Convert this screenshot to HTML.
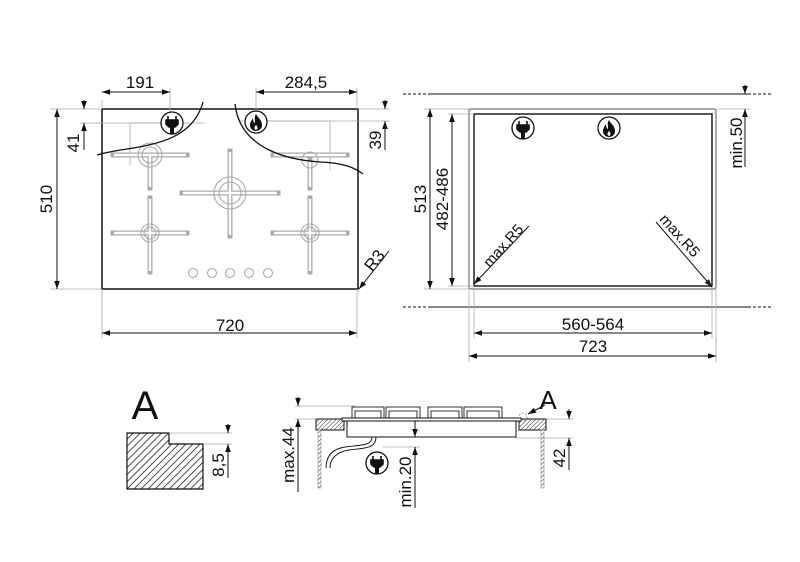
<!DOCTYPE html>
<html><head><meta charset="utf-8"><style>
html,body{margin:0;padding:0;background:#fff}
svg{display:block}
text{font-family:"Liberation Sans",sans-serif;fill:#111}
</style></head><body>
<svg width="800" height="562" viewBox="0 0 800 562" xmlns="http://www.w3.org/2000/svg">
<defs>
<marker id="a" viewBox="0 0 10 10" refX="10" refY="5" markerWidth="8" markerHeight="8" orient="auto-start-reverse" markerUnits="userSpaceOnUse"><path d="M0,1.5 L10,5 L0,8.5 z" fill="#111"/></marker>
<pattern id="h" width="5" height="5" patternUnits="userSpaceOnUse" patternTransform="rotate(45)"><rect width="5" height="5" fill="#fff"/><line x1="0" y1="0" x2="0" y2="5" stroke="#222" stroke-width="1.6"/></pattern>
<pattern id="hs" width="3" height="3" patternUnits="userSpaceOnUse" patternTransform="rotate(45)"><rect width="3" height="3" fill="#fff"/><line x1="0" y1="0" x2="0" y2="3" stroke="#333" stroke-width="1"/></pattern>
<g id="plug"><circle r="11" fill="#fff" stroke="#111" stroke-width="1.3"/><path d="M-4,-7v4M4,-7v4M-6,-3h12v4l-3,3h-6l-3-3z M-1.2,4h2.4v6h-2.4z" fill="#111" stroke="#111" stroke-width="1.6"/></g>
<g id="flame"><circle r="11" fill="#fff" stroke="#111" stroke-width="1.3"/><path d="M0,-8 C2,-4 6,-2 6,3 C6,7 3,9 0,9 C-3,9 -6,7 -6,3 C-6,0 -4,-2 -3,-4 C-3,-1 -2,1 -1,1 C-1,-3 -2,-5 0,-8z M0,3 C-2,5 -2,7 0,8 C2,7 2,5 0,3z" fill="#111" fill-rule="evenodd"/></g>
</defs>

<!-- LEFT VIEW -->
<g stroke="#111" fill="none">
<rect x="102" y="109" width="256" height="180" stroke-width="1.5"/>
<g stroke="#aaa" stroke-width="0.8">
<path d="M130,165 V123 H170 M175,123 H205 M240,121 H330 V170"/>
<line x1="102" y1="100" x2="102" y2="109"/><line x1="170" y1="88" x2="170" y2="112"/>
<line x1="256" y1="88" x2="256" y2="112"/><line x1="357" y1="88" x2="357" y2="109"/>
<line x1="50" y1="109" x2="102" y2="109"/><line x1="50" y1="289" x2="102" y2="289"/>
<line x1="80" y1="123" x2="163" y2="123"/>
<line x1="358" y1="109" x2="390" y2="109"/><line x1="262" y1="121" x2="390" y2="121"/>
<line x1="102" y1="289" x2="102" y2="338"/><line x1="357" y1="289" x2="357" y2="338"/>
</g>
<g stroke="#aaa" stroke-width="5" stroke-linecap="square">
<path d="M113,155H187M150,155V188M113,233H187M150,198V272M182,193H278M230,151V236M273,233H347M310,198V272M310,160V188M273,155H347"/>
</g>
<g stroke="#fff" stroke-width="2.4">
<path d="M114,155H186M150,156V187M114,233H186M150,199V271M183,193H277M230,152V235M274,233H346M310,199V271M310,161V187M274,155H346"/>
</g>
<g stroke="#aaa" stroke-width="1.1">
<circle cx="150" cy="155" r="8"/><circle cx="150" cy="155" r="12"/>
<circle cx="150" cy="233" r="6"/><circle cx="150" cy="233" r="9"/>
<circle cx="230" cy="193" r="11"/><circle cx="230" cy="193" r="16"/>
<circle cx="310" cy="233" r="6"/><circle cx="310" cy="233" r="9"/>
<circle cx="310" cy="160" r="8"/>
<circle cx="193" cy="273" r="4.5"/><circle cx="212" cy="273" r="4.5"/><circle cx="230" cy="273" r="4.5"/><circle cx="249" cy="273" r="4.5"/><circle cx="268" cy="273" r="4.5"/>
</g>
<path d="M97,155 C130,145 190,150 203,102" stroke-width="1.3" fill="none"/>
<path d="M235,104 C240,150 290,160 320,162 C345,163 355,168 363,174" stroke-width="1.3" fill="none"/>
<g stroke-width="1">
<line x1="102" y1="92" x2="170" y2="92" marker-start="url(#a)" marker-end="url(#a)"/>
<line x1="256" y1="92" x2="357" y2="92" marker-start="url(#a)" marker-end="url(#a)"/>
<line x1="57" y1="109" x2="57" y2="289" marker-start="url(#a)" marker-end="url(#a)"/>
<line x1="84" y1="100" x2="84" y2="109" marker-end="url(#a)"/>
<line x1="84" y1="135" x2="84" y2="123" marker-end="url(#a)"/>
<line x1="84" y1="123" x2="84" y2="150"/>
<line x1="385" y1="100" x2="385" y2="109" marker-end="url(#a)"/>
<line x1="385" y1="150" x2="385" y2="121" marker-end="url(#a)"/>
<line x1="102" y1="333" x2="357" y2="333" marker-start="url(#a)" marker-end="url(#a)"/>
<line x1="389" y1="251" x2="359" y2="289" marker-end="url(#a)"/>
</g>
</g>
<use href="#plug" x="172" y="123"/>
<use href="#flame" x="256" y="122"/>
<g font-size="17">
<text x="140" y="88" text-anchor="middle">191</text>
<text x="306" y="88" text-anchor="middle">284,5</text>
<text x="230" y="331" text-anchor="middle">720</text>
<text transform="translate(52,199) rotate(-90)" text-anchor="middle">510</text>
<text transform="translate(79,143) rotate(-90)" text-anchor="middle">41</text>
<text transform="translate(381,140) rotate(-90)" text-anchor="middle">39</text>
<text transform="translate(379,264) rotate(-52)" text-anchor="middle">R3</text>
</g>

<!-- RIGHT VIEW -->
<g stroke="#111" fill="none" stroke-width="1">
<line x1="403" y1="94" x2="773" y2="94" stroke-dasharray="3,2"/>
<line x1="428" y1="94" x2="748" y2="94"/>
<line x1="403" y1="307" x2="773" y2="307" stroke-dasharray="3,2"/>
<line x1="428" y1="307" x2="748" y2="307"/>
<rect x="469" y="109" width="247" height="180" rx="2" stroke="#555"/>
<rect x="474" y="114" width="238" height="172" stroke-width="1.4"/>
<g stroke="#aaa" stroke-width="0.8">
<line x1="424" y1="109" x2="469" y2="109"/><line x1="424" y1="289" x2="469" y2="289"/>
<line x1="448" y1="114" x2="474" y2="114"/><line x1="448" y1="286" x2="474" y2="286"/>
<line x1="716" y1="109" x2="750" y2="109"/>
<line x1="469" y1="289" x2="469" y2="362"/><line x1="716" y1="289" x2="716" y2="362"/>
<line x1="474" y1="286" x2="474" y2="338"/><line x1="712" y1="286" x2="712" y2="338"/>
</g>
<line x1="745" y1="85" x2="745" y2="94" marker-end="url(#a)"/>
<line x1="745" y1="125" x2="745" y2="109" marker-end="url(#a)"/>
<line x1="745" y1="109" x2="745" y2="167"/>
<line x1="430" y1="109" x2="430" y2="289" marker-start="url(#a)" marker-end="url(#a)"/>
<line x1="452" y1="114" x2="452" y2="286" marker-start="url(#a)" marker-end="url(#a)"/>
<line x1="474" y1="333" x2="712" y2="333" marker-start="url(#a)" marker-end="url(#a)"/>
<line x1="469" y1="356" x2="716" y2="356" marker-start="url(#a)" marker-end="url(#a)"/>
<line x1="529" y1="226" x2="474" y2="284" marker-end="url(#a)"/>
<line x1="656" y1="222" x2="712" y2="287" marker-end="url(#a)"/>
</g>
<use href="#plug" x="523" y="128"/>
<use href="#flame" x="609" y="128"/>
<g font-size="17">
<text x="593" y="330" text-anchor="middle">560-564</text>
<text x="593" y="352" text-anchor="middle">723</text>
<text transform="translate(426,199) rotate(-90)" text-anchor="middle">513</text>
<text transform="translate(448,199) rotate(-90)" text-anchor="middle">482-486</text>
<text transform="translate(742,143) rotate(-90)" text-anchor="middle">min.50</text>
<text transform="translate(507,249) rotate(-48)" text-anchor="middle" font-size="15">max.R5</text>
<text transform="translate(676,239) rotate(48)" text-anchor="middle" font-size="15">max.R5</text>
</g>

<!-- DETAIL A -->
<text x="145" y="419" font-size="40" text-anchor="middle">A</text>
<path d="M127,433H169V444H203V489H127Z" fill="url(#h)" stroke="#111" stroke-width="1.2"/>
<g stroke="#aaa" stroke-width="0.8"><line x1="169" y1="433" x2="232" y2="433"/><line x1="203" y1="444" x2="232" y2="444"/></g>
<g stroke="#111" stroke-width="1">
<line x1="228" y1="424" x2="228" y2="433" marker-end="url(#a)"/>
<line x1="228" y1="458" x2="228" y2="444" marker-end="url(#a)"/>
<line x1="228" y1="444" x2="228" y2="478"/>
</g>
<text transform="translate(224,465) rotate(-90)" text-anchor="middle" font-size="17">8,5</text>

<!-- SIDE VIEW -->
<g stroke="#111" fill="none" stroke-width="1">
<rect x="316" y="419" width="28" height="11" fill="url(#hs)"/>
<rect x="519" y="419" width="27" height="11" fill="url(#hs)"/>
<rect x="318" y="430" width="3" height="58" fill="url(#hs)" stroke="#888" stroke-width="0.6"/>
<rect x="541" y="430" width="3" height="58" fill="url(#hs)" stroke="#888" stroke-width="0.6"/>
<path d="M352,418V407H384V418M355,418V411H381V418M386,418V407H420V418M389,418V411H417V418 M428,418V407H462V418M431,418V411H459V418M464,418V407H502V418M467,418V411H499V418" stroke="#333" stroke-width="1"/>
<rect x="342" y="418" width="179" height="3" fill="#fff"/>
<rect x="347" y="421" width="169" height="16" fill="#fff"/>
<circle cx="523" cy="417" r="4" stroke="#999" stroke-dasharray="2,1.5"/>
<line x1="545" y1="405" x2="528" y2="414" marker-end="url(#a)"/>
<path d="M372,437 C372,446 360,445 345,447 C332,449 326,456 326,468 M376,437 C376,449 364,448 349,450 C336,452 330,459 330,468" stroke-width="0.9"/>
<g stroke="#aaa" stroke-width="0.8">
<line x1="295" y1="406" x2="356" y2="406"/><line x1="295" y1="419" x2="316" y2="419"/>
<line x1="383" y1="447" x2="420" y2="447"/>
<line x1="546" y1="419" x2="573" y2="419"/><line x1="516" y1="438" x2="573" y2="438"/>
</g>
<line x1="298" y1="397" x2="298" y2="406" marker-end="url(#a)"/>
<line x1="298" y1="432" x2="298" y2="419" marker-end="url(#a)"/>
<line x1="298" y1="419" x2="298" y2="492"/>
<line x1="415" y1="421" x2="415" y2="437" marker-end="url(#a)"/>
<line x1="415" y1="460" x2="415" y2="447" marker-end="url(#a)"/>
<line x1="415" y1="447" x2="415" y2="508"/>
<line x1="569" y1="409" x2="569" y2="419" marker-end="url(#a)"/>
<line x1="569" y1="451" x2="569" y2="438" marker-end="url(#a)"/>
<line x1="569" y1="438" x2="569" y2="470"/>
</g>
<use href="#plug" x="377" y="463"/>
<text x="548" y="409" font-size="26" text-anchor="middle">A</text>
<g font-size="17">
<text transform="translate(294,455) rotate(-90)" text-anchor="middle">max.44</text>
<text transform="translate(411,482) rotate(-90)" text-anchor="middle">min.20</text>
<text transform="translate(565,458) rotate(-90)" text-anchor="middle">42</text>
</g>
</svg>
</body></html>
